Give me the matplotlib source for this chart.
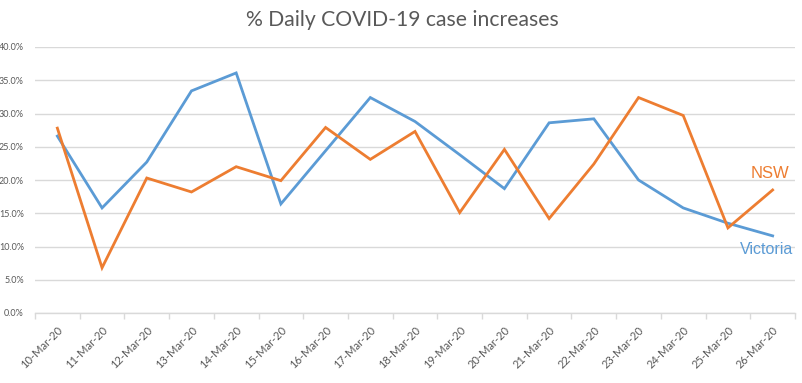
import matplotlib
matplotlib.use("Agg")
import matplotlib.pyplot as plt
import numpy as np

dates = ["10-Mar-20", "11-Mar-20", "12-Mar-20", "13-Mar-20", "14-Mar-20", "15-Mar-20",
         "16-Mar-20", "17-Mar-20", "18-Mar-20", "19-Mar-20", "20-Mar-20", "21-Mar-20",
         "22-Mar-20", "23-Mar-20", "24-Mar-20", "25-Mar-20", "26-Mar-20"]
victoria = [26.6, 15.8, 22.7, 33.4, 36.1, 16.4, 24.4, 32.4, 28.8, 23.8, 18.7, 28.6,
            29.2, 20.0, 15.8, 13.5, 11.6]
nsw = [27.8, 6.8, 20.3, 18.2, 22.0, 19.9, 27.9, 23.1, 27.3, 15.1, 24.6, 14.2,
       22.4, 32.4, 29.7, 12.8, 18.5]
yticks = [0, 5, 10, 15, 20, 25, 30, 35, 40]

BLUE = "#5B9BD5"
ORANGE = "#ED7D31"
GRAY = "#595959"
GRID = "#D9D9D9"

fig = plt.figure(figsize=(8.03, 3.83), dpi=100)
ax = fig.add_axes([35/803, 1-313/383, 760/803, 266/383])

x = np.arange(len(dates))
ax.plot(x, victoria, color=BLUE, lw=2.0, solid_joinstyle="miter")
ax.plot(x, nsw, color=ORANGE, lw=2.0, solid_joinstyle="miter")

ax.set_xlim(-0.5, len(dates) - 0.5)
ax.set_ylim(0, 40)
ax.set_yticks(yticks)
ax.set_yticklabels([f"{v:.1f}%" for v in yticks], fontsize=6.5, color=GRAY, family="Lato")
ax.tick_params(axis="y", length=0, pad=8)
ax.grid(axis="y", color=GRID, lw=1.0)
ax.set_axisbelow(True)

ax.set_xticks(x)
ax.set_xticklabels(dates, rotation=45, ha="right", rotation_mode="anchor",
                   fontsize=8, color=GRAY, family="Lato")
ax.tick_params(axis="x", length=0, pad=8)
ax.set_xticks(np.arange(len(dates) + 1) - 0.5, minor=True)
ax.tick_params(axis="x", which="minor", length=4, color=GRID, width=1)

for s in ["top", "right", "left"]:
    ax.spines[s].set_visible(False)
ax.spines["bottom"].set_color(GRID)
ax.spines["bottom"].set_linewidth(1.0)

ax.text(16.38, 21.0, "NSW", color=ORANGE, fontsize=12,
        family="Liberation Sans", ha="right", va="center")
ax.text(16.45, 9.5, "Victoria", color=BLUE, fontsize=11.5,
        family="Liberation Sans", ha="right", va="center")

fig.text(402/803, 1-20/383, "% Daily COVID-19 case increases", ha="center", va="center",
         fontsize=15.2, color=GRAY, family="Lato")

fig.savefig("out.png", dpi=100)
